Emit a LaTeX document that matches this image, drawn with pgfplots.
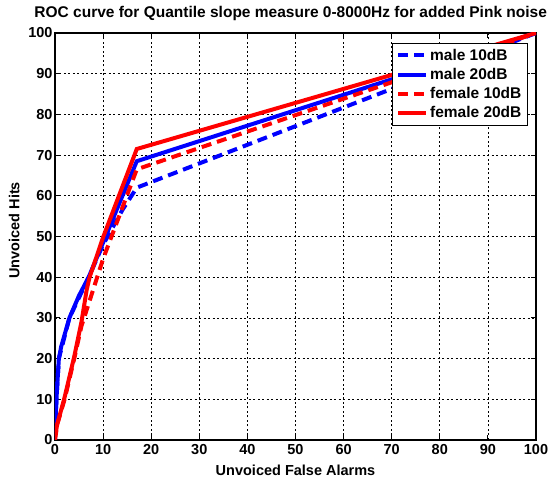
\documentclass[border=0pt]{standalone}
\usepackage{fontspec}
\setmainfont{Liberation Sans}
\usepackage{pgfplots}
\pgfplotsset{compat=1.18}
\newcommand\mf{\fontsize{14.5}{16}\selectfont\bfseries}
\newcommand\tf{\fontsize{15.5}{17}\selectfont\bfseries}
\begin{document}
\begin{tikzpicture}[x=1pt,y=1pt]
\useasboundingbox (-55,-44) rectangle (494,440);
\begin{axis}[
  at={(0pt,0pt)}, anchor=south west,
  scale only axis, width=481pt, height=407pt,
  xmin=0, xmax=100, ymin=0, ymax=100,
  xtick={0,10,...,100}, ytick={0,10,...,100},
  grid=major,
  major grid style={black, line width=0.7pt, dash pattern=on 2pt off 2.5pt},
  axis line style={black, line width=1.8pt},
  tick style={black, line width=1pt},
  major tick length=5pt,
  tick align=inside,
  /pgf/number format/assume math mode=true,
  ticklabel style={font=\mf},
  yticklabel style={xshift=1pt},
  xticklabel style={yshift=-0.5pt},
  title={ROC curve for Quantile slope measure 0-8000Hz for added Pink noise},
  title style={at={(axis description cs:0.49,1.034)}, anchor=center, font=\tf},
  xlabel={Unvoiced False Alarms},
  xlabel style={at={(axis description cs:0.5,-0.0737)}, anchor=center, font=\mf},
  ylabel={Unvoiced Hits},
  ylabel style={at={(axis description cs:-0.085,0.515)}, anchor=center, font=\mf},
  legend style={at={(0.983,0.975)}, anchor=north east, draw=black, line width=0.8pt,
    font=\tf, row sep=3.5pt, inner xsep=4pt, inner ysep=4pt,
    nodes={inner ysep=1.5pt}},
  legend cell align=left,
  legend image code/.code={\draw[#1] (0pt,0pt) -- (28pt,0pt);},
]
\addplot[blue, line width=4pt, dash pattern=on 10pt off 6pt] coordinates {
 (0,0) (0.3,10) (0.8,20) (3,30) (5,35) (7,40) (10,48) (14,56.5) (17,62) (100,100)};
\addlegendentry{male 10dB}
\addplot[blue, line width=4pt] coordinates {
 (0,2) (0.3,10) (0.8,20) (1.3,23) (3,30) (5,35.5) (7,40) (10,48.5) (17,68.5) (100,100)};
\addlegendentry{male 20dB}
\addplot[red, line width=4pt, dash pattern=on 10pt off 6pt] coordinates {
 (0,0) (0.5,4) (2,10) (4,20) (5.5,28) (7,33.5) (10,44.5) (17,66.5) (100,100)};
\addlegendentry{female 10dB}
\addplot[red, line width=4pt] coordinates {
 (0,1) (0.5,4) (2,10.5) (4,20.5) (5.5,29) (6.6,37) (7.2,40) (10,49.8) (17,71.5) (100,100)};
\addlegendentry{female 20dB}
\end{axis}
\end{tikzpicture}
\end{document}
